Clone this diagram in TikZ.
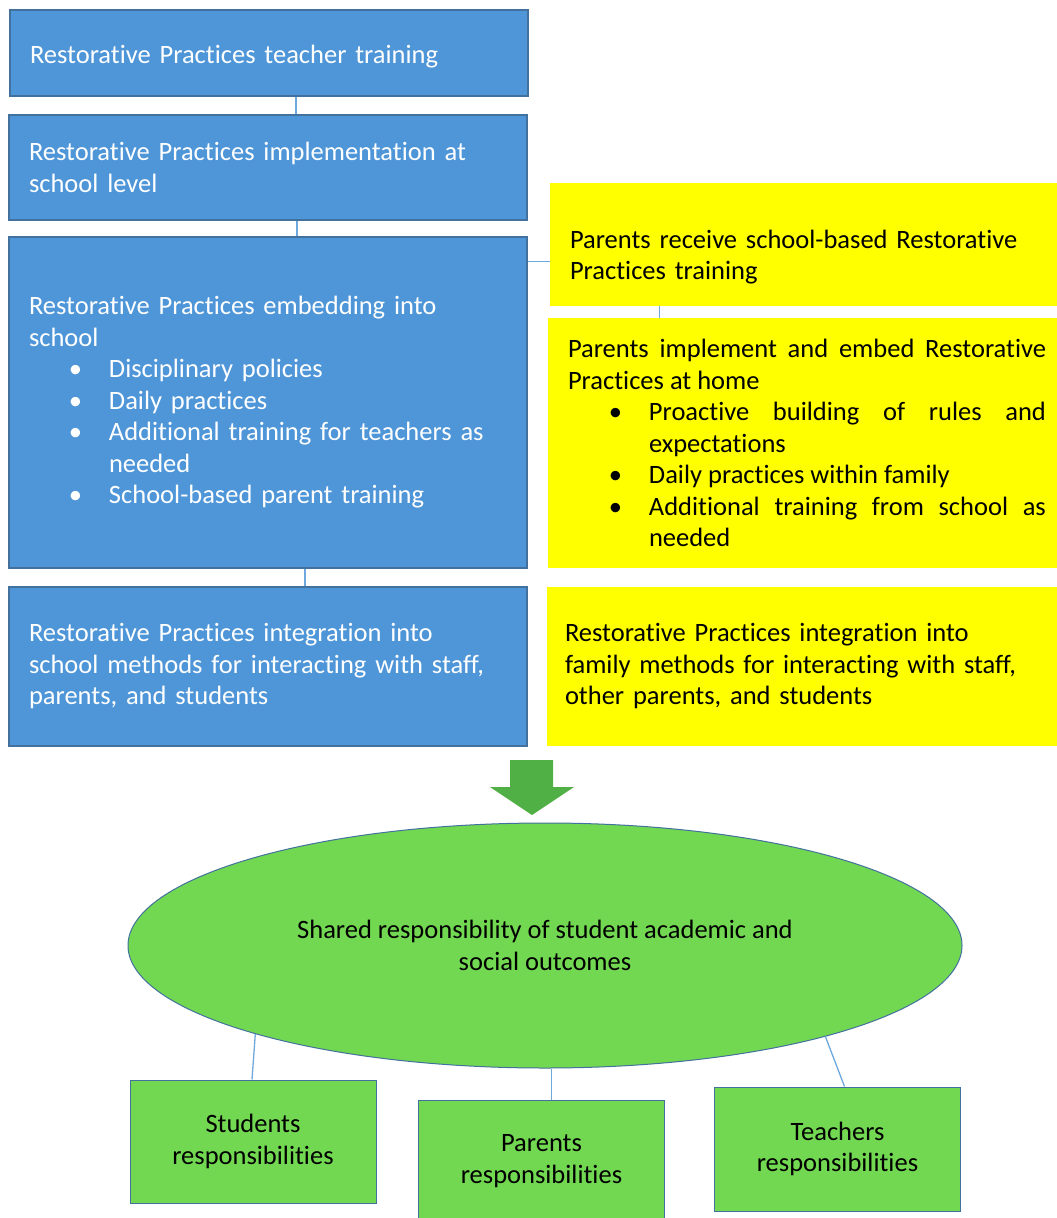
\documentclass[tikz,border=0pt]{standalone}
\usepackage{fontspec}
\setmainfont{Carlito}[Ligatures={TeX,NoCommon}]
\usetikzlibrary{shapes.geometric}
\definecolor{rpblue}{HTML}{4E96D8}
\definecolor{rpedge}{HTML}{41719C}
\definecolor{rpline}{HTML}{6FA8DC}
\definecolor{rpyellow}{HTML}{FFFF00}
\definecolor{rpgreen}{HTML}{72D852}
\definecolor{rparrow}{HTML}{50B046}
\begin{document}
\begin{tikzpicture}[x=1pt, y=-1pt,
    txt/.style={font=\fontsize{26.5}{31.5}\selectfont},
    bluebox/.style={txt, draw=rpedge, line width=1.2pt, fill=rpblue, text=white,
        inner xsep=20pt, inner ysep=0pt, text width=478pt, align=left},
    yellowbox/.style={txt, fill=rpyellow, inner xsep=20pt, inner ysep=0pt,
        text width=478pt, align=left},
    greenbox/.style={txt, draw=rpedge, line width=1pt, fill=rpgreen,
        minimum width=246pt, align=center},
    link/.style={draw=rpline, line width=1.3pt}]
    \useasboundingbox (0,0) rectangle (1057,1218);
    \clip (0,0) rectangle (1057,1218);
    \fill[white] (0,0) rectangle (1057,1218);

    % school column
    \node[bluebox, minimum height=86pt] (train) at (269,53) {\rule{0pt}{26pt}Restorative Practices teacher training};
    \node[bluebox, minimum height=105pt] (implement) at (268,167.5) {Restorative Practices implementation at\\school level};
    \node[bluebox, minimum height=331pt] (embed) at (268,402.5) {Restorative Practices embedding into\\school\par
        {\leftskip=80pt \noindent\llap{\textbullet\hspace{27pt}}Disciplinary policies\par
        \noindent\llap{\textbullet\hspace{27pt}}Daily practices\par
        \noindent\llap{\textbullet\hspace{27pt}}Additional training for teachers as\\needed\par
        \noindent\llap{\textbullet\hspace{27pt}}School-based parent training\par}};
    \node[bluebox, minimum height=159pt] (integrate) at (268,666.5) {Restorative Practices integration into\\school methods for interacting with staff,\\parents, and students};

    % family column
    \node[yellowbox, minimum height=123pt] (receive) at (809,244.5) {\rule{0pt}{44pt}Parents receive school-based Restorative\\Practices training};
    \node[yellowbox, minimum height=250pt, align=justify] (home) at (807,443) {Parents implement and embed Restorative\linebreak Practices at home\par
        {\leftskip=81pt \noindent\llap{\textbullet\hspace{27pt}}Proactive building of rules and\linebreak expectations\par
        \noindent\llap{\textbullet\hspace{27pt}}Daily practices within family\par
        \noindent\llap{\textbullet\hspace{27pt}}Additional training from school as\linebreak needed\par}};
    \node[yellowbox, minimum height=159pt, inner xsep=18pt] (family) at (804,666.5) {Restorative Practices integration into\\family methods for interacting with staff,\\other parents, and students};

    \draw[link] ([xshift=27pt]train.south) -- ([xshift=27pt]train.south |- implement.north);
    \draw[link] ([xshift=29pt]implement.south) -- ([xshift=29pt]implement.south |- embed.north);
    \draw[link] ([xshift=37pt]embed.south) -- ([xshift=37pt]embed.south |- integrate.north);
    \draw[link] ([yshift=-17pt]receive.west) -- ([yshift=-17pt]receive.west -| embed.east);
    \draw[link] ([xshift=110pt]receive.south west) -- ([xshift=110pt]receive.south west |- home.north);

    % big arrow
    \fill[rparrow] (510,760) -- (553,760) -- (553,787) -- (574,787) -- (532,815)
        -- (490,787) -- (510,787) -- cycle;

    % outcomes
    \node[ellipse, txt, draw=rpedge, line width=1pt, fill=rpgreen, minimum width=834pt,
        minimum height=245pt, inner sep=0pt, align=center] (shared) at (545,945.5)
        {Shared responsibility of student academic and\\social outcomes};
    \node[greenbox, minimum height=123pt] (students) at (253,1141.5) {Students\\responsibilities};
    \node[greenbox, minimum height=122pt] (parents) at (541.5,1161) {Parents\\responsibilities};
    \node[greenbox, minimum height=124pt] (teachers) at (837.5,1149) {Teachers\\responsibilities};

    \draw[link] (shared.197) -- ([xshift=-1pt]students.north);
    \draw[link] ([xshift=10pt]parents.north) -- ([xshift=10pt]parents.north |- shared.south);
    \draw[link] (shared.342) -- ([xshift=7pt]teachers.north);
\end{tikzpicture}
\end{document}
